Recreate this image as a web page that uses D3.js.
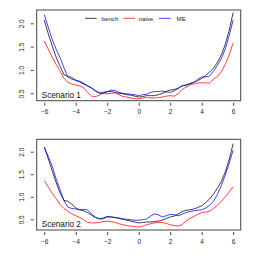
<!DOCTYPE html>
<html><head><meta charset="utf-8">
<script src="https://cdn.jsdelivr.net/npm/d3@7"></script>
<style>html,body{margin:0;padding:0;background:#fff;}svg{display:block;}</style>
</head><body>
<script>
const xs = [-6,-5.75,-5.5,-5.25,-5,-4.75,-4.5,-4.25,-4,-3.75,-3.5,-3.25,-3,-2.75,-2.5,-2.25,-2,-1.75,-1.5,-1.25,-1,-0.75,-0.5,-0.25,0,0.25,0.5,0.75,1,1.25,1.5,1.75,2,2.25,2.5,2.75,3,3.25,3.5,3.75,4,4.25,4.5,4.75,5,5.25,5.5,5.75,6];

const s1_bench = [2.07,1.78,1.52,1.28,1.08,0.90,0.86,0.84,0.78,0.74,0.70,0.66,0.61,0.55,0.50,0.52,0.54,0.54,0.52,0.50,0.49,0.47,0.46,0.44,0.42,0.43,0.45,0.45,0.45,0.47,0.50,0.54,0.57,0.58,0.61,0.66,0.68,0.71,0.74,0.77,0.82,0.88,0.95,1.04,1.16,1.32,1.55,1.85,2.23];
const s1_naive = [1.62,1.45,1.28,1.12,0.98,0.82,0.74,0.70,0.68,0.66,0.62,0.52,0.44,0.43,0.46,0.50,0.49,0.50,0.51,0.47,0.43,0.42,0.40,0.39,0.38,0.40,0.41,0.40,0.40,0.41,0.42,0.44,0.45,0.44,0.49,0.58,0.63,0.68,0.70,0.72,0.73,0.72,0.72,0.80,0.86,0.96,1.12,1.32,1.58];
const s1_ME = [2.19,1.92,1.66,1.45,1.27,1.05,0.85,0.80,0.78,0.76,0.72,0.66,0.62,0.56,0.51,0.50,0.53,0.57,0.56,0.52,0.50,0.49,0.48,0.47,0.45,0.47,0.48,0.52,0.54,0.54,0.55,0.53,0.52,0.55,0.60,0.66,0.67,0.70,0.73,0.80,0.85,0.85,0.87,0.97,1.10,1.24,1.45,1.74,2.07];

const s2_bench = [2.10,1.85,1.58,1.32,1.09,0.92,0.90,0.84,0.75,0.71,0.69,0.65,0.59,0.54,0.51,0.53,0.56,0.55,0.54,0.52,0.50,0.48,0.46,0.44,0.42,0.43,0.44,0.44,0.45,0.46,0.48,0.52,0.55,0.57,0.62,0.67,0.70,0.71,0.73,0.76,0.80,0.87,0.95,1.06,1.19,1.34,1.55,1.83,2.18];
const s2_naive = [1.36,1.22,1.08,0.96,0.83,0.74,0.68,0.62,0.58,0.54,0.49,0.43,0.42,0.42,0.43,0.45,0.46,0.45,0.43,0.40,0.38,0.36,0.35,0.34,0.33,0.35,0.38,0.40,0.42,0.43,0.43,0.41,0.38,0.36,0.35,0.38,0.46,0.52,0.56,0.61,0.65,0.66,0.68,0.74,0.81,0.90,1.00,1.11,1.22];
const s2_ME = [2.10,1.90,1.68,1.40,1.16,0.92,0.77,0.74,0.73,0.71,0.72,0.71,0.62,0.55,0.51,0.51,0.56,0.55,0.54,0.53,0.51,0.50,0.49,0.48,0.48,0.49,0.51,0.57,0.62,0.60,0.55,0.58,0.61,0.60,0.58,0.61,0.65,0.67,0.69,0.70,0.71,0.75,0.81,0.90,1.05,1.25,1.48,1.74,2.04];

const xTicks = [-6,-4,-2,0,2,4,6];
const yTicks = [0.5,1.0,1.5,2.0];
const seriesNames = ["bench","naive","ME"];
const seriesColors = ["#000000","#ff0000","#0000ff"];
const panelLabels = ["Scenario 1","Scenario 2"];

const W = 259, H = 259;
const svg = d3.select("body").append("svg").attr("width", W).attr("height", H);
const font = "'Liberation Sans', Arial, Helvetica, sans-serif";

const panels = [
  {series:[s1_bench,s1_naive,s1_ME], top:10, bottom:100.7, ydom:[0.342,2.285], label:panelLabels[0], legend:true},
  {series:[s2_bench,s2_naive,s2_ME], top:139.3, bottom:230, ydom:[0.263,2.275], label:panelLabels[1], legend:false}
];
const left = 36.7, right = 240.7;
const x = d3.scaleLinear().domain([-6.48,6.48]).range([left,right]);

panels.forEach(p => {
  const y = d3.scaleLinear().domain(p.ydom).range([p.bottom,p.top]);
  const g = svg.append("g");
  const line = d3.line().x((d,i)=>x(xs[i])).y(d=>y(d));
  p.series.forEach((s,k) => {
    g.append("path").datum(s).attr("d", line).attr("fill","none")
      .attr("stroke", seriesColors[k]).attr("stroke-width",0.75).attr("stroke-linejoin","round");
  });
  g.append("rect").attr("x",left).attr("y",p.top).attr("width",right-left).attr("height",p.bottom-p.top)
    .attr("fill","none").attr("stroke","#444").attr("stroke-width",1);
  const xa = d3.axisBottom(x).tickValues(xTicks).tickSize(3).tickPadding(4)
    .tickFormat(d => d < 0 ? "\u2212" + Math.abs(d) : String(d));
  const xg = g.append("g").attr("transform",`translate(0,${p.bottom+2})`).call(xa);
  xg.select(".domain").remove();
  xg.selectAll("line").attr("stroke","#444");
  xg.selectAll("text").attr("font-family",font).attr("font-size",6.5).attr("fill","#222");
  const ya = d3.axisLeft(y).tickValues(yTicks).tickSize(3).tickPadding(0).tickFormat(d3.format(".1f"));
  const yg = g.append("g").attr("transform",`translate(${left-3},0)`).call(ya);
  yg.select(".domain").remove();
  yg.selectAll("line").attr("stroke","#444");
  yg.selectAll("text").attr("font-family",font).attr("font-size",6.5).attr("fill","#222")
    .attr("text-anchor","middle").attr("dy",null).attr("x",null)
    .attr("transform",`translate(-12,0) rotate(-90)`).attr("dominant-baseline","central");
  g.append("text").attr("x",left+5).attr("y",p.bottom-5.5).attr("font-family",font).attr("font-size",8.2)
    .attr("fill","#111").attr("dominant-baseline","central").text(p.label);
  if (p.legend) {
    const lx = [85,123.3,159];
    const tx = [101.5,138.5,176.5];
    seriesNames.forEach((n,k) => {
      g.append("line").attr("x1",lx[k]).attr("x2",lx[k]+11.7).attr("y1",18.3).attr("y2",18.3)
        .attr("stroke",seriesColors[k]).attr("stroke-width",0.75);
      g.append("text").attr("x",tx[k]).attr("y",18.3).attr("font-family",font).attr("font-size",6.2)
        .attr("fill","#222").attr("dominant-baseline","central").text(n);
    });
  }
});
</script>
</body></html>
